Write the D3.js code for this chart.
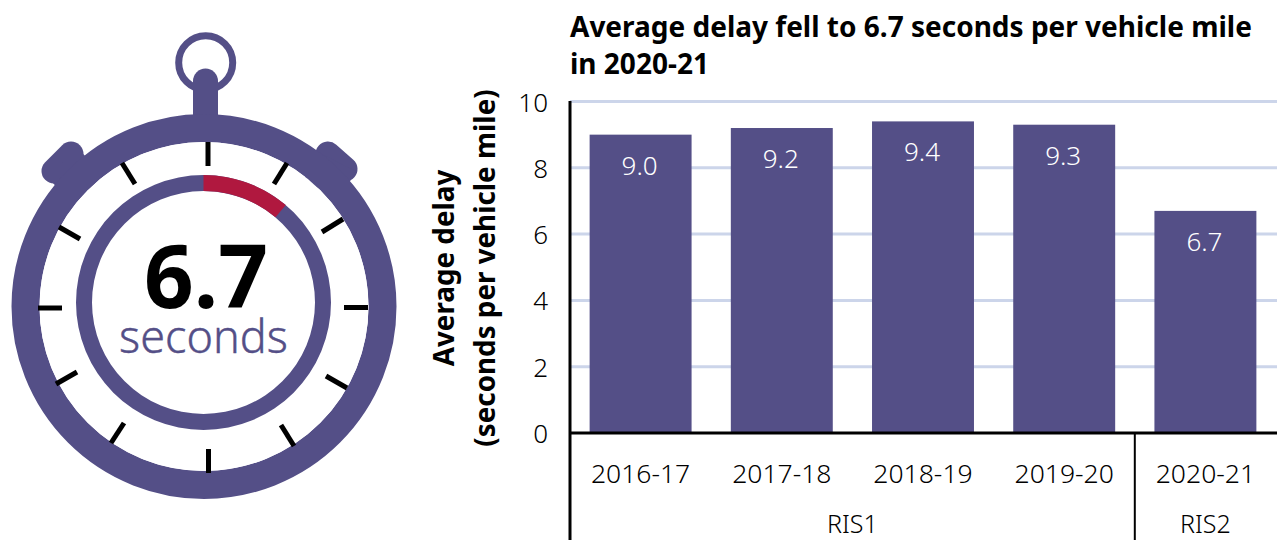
<!DOCTYPE html>
<html><head><meta charset="utf-8">
<script src="https://cdn.jsdelivr.net/npm/d3@7"></script>
<style>
html,body{margin:0;padding:0;background:#fff;overflow:hidden}
text{font-family:"Noto Sans",sans-serif}
</style></head><body>
<svg id="c" width="1278" height="540"></svg>
<script>
const categories=["2016-17","2017-18","2018-19","2019-20","2020-21"];
const delayValues=[9.0,9.2,9.4,9.3,6.7];
const valueLabels=["9.0","9.2","9.4","9.3","6.7"];
const yTicks=[0,2,4,6,8,10];
const groups=[{name:"RIS1",from:0,to:4},{name:"RIS2",from:4,to:5}];
const headlineValue=6.7, headlineLabel="6.7", headlineUnit="seconds", dialSeconds=60;
const titleLines=["Average delay fell to 6.7 seconds per vehicle mile","in 2020-21"];
const yTitleLines=["Average delay","(seconds per vehicle mile)"];

const PURPLE="#544f87",RED="#b0183f",GRID="#ccd5ea";
const svg=d3.select("#c");

// stopwatch
const w=svg.append("g");
w.append("circle").attr("cx",205.7).attr("cy",62.7).attr("r",27).attr("fill","none").attr("stroke",PURPLE).attr("stroke-width",7);
w.append("line").attr("x1",205.5).attr("x2",205.5).attr("y1",81).attr("y2",125).attr("stroke",PURPLE).attr("stroke-width",25).attr("stroke-linecap","round");
[[[71,154],[54,171],[88,190]],[[328,154],[345,169],[322,190]]].forEach(([a,b,c])=>{
  w.append("line").attr("x1",a[0]).attr("y1",a[1]).attr("x2",b[0]).attr("y2",b[1]).attr("stroke",PURPLE).attr("stroke-width",25).attr("stroke-linecap","round");
  w.append("line").attr("x1",(a[0]+b[0])/2).attr("y1",(a[1]+b[1])/2).attr("x2",c[0]).attr("y2",c[1]).attr("stroke",PURPLE).attr("stroke-width",42);
});
w.append("circle").attr("cx",204).attr("cy",306.5).attr("r",178.5).attr("fill","none").attr("stroke",PURPLE).attr("stroke-width",28);
w.append("circle").attr("cx",204).attr("cy",306.5).attr("r",164.5).attr("fill","#fff");
const dialTicks=[[208,142,208,166],[287,163,274,184],[343,219,322,232],[368,307.5,344,307.5],[347,388,326,376],[294,446,281,425],[208.5,473,208.5,449],[111,443,124,423],[56,384,77,372],[38,308,62,308],[59,227,80,239],[122,163,135,184]];
w.selectAll(".dt").data(dialTicks).join("line").attr("x1",d=>d[0]).attr("y1",d=>d[1]).attr("x2",d=>d[2]).attr("y2",d=>d[3]).attr("stroke","#000").attr("stroke-width",5);
const dial=d3.scaleLinear().domain([0,dialSeconds]).range([0,2*Math.PI]);
const arc=d3.arc().innerRadius(111.5).outerRadius(127.5);
const dg=w.append("g").attr("transform","translate(203.5,302.5)");
dg.append("path").attr("d",arc({startAngle:0,endAngle:2*Math.PI})).attr("fill",PURPLE);
dg.append("path").attr("d",arc({startAngle:0,endAngle:dial(headlineValue)})).attr("fill",RED);
w.append("text").attr("x",206).attr("y",308).attr("text-anchor","middle").attr("font-size",87).attr("font-weight",700).attr("fill","#000").text(headlineLabel);
w.append("text").attr("x",203.5).attr("y",353).attr("text-anchor","middle").attr("font-size",45).attr("font-weight",300).attr("fill",PURPLE).attr("stroke",PURPLE).attr("stroke-width",0.4).text(headlineUnit);

// chart
const x=d3.scaleBand().domain(categories).range([570,1276]).paddingInner(0.278).paddingOuter(0.139);
const y=d3.scaleLinear().domain([0,10]).range([433,101.5]);
const chart=svg.append("g");
chart.selectAll(".g").data(yTicks.filter(d=>d>0)).join("line").attr("x1",570).attr("x2",1277).attr("y1",y).attr("y2",y).attr("stroke",GRID).attr("stroke-width",3);
chart.selectAll(".b").data(delayValues).join("rect").attr("x",(d,i)=>x(categories[i])).attr("width",x.bandwidth()).attr("y",y).attr("height",d=>y(0)-y(d)).attr("fill",PURPLE);
chart.selectAll(".v").data(delayValues).join("text").attr("x",(d,i)=>x(categories[i])+x.bandwidth()/2-1).attr("y",d=>y(d)+40).attr("text-anchor","middle").attr("font-size",26).attr("font-weight",300).attr("fill","#fff").text((d,i)=>valueLabels[i]);
chart.selectAll(".yt").data(yTicks).join("text").attr("x",548).attr("y",d=>y(d)+10).attr("text-anchor","end").attr("font-size",26).attr("font-weight",300).attr("fill","#000").text(d=>d);
chart.append("line").attr("x1",570).attr("x2",570).attr("y1",101).attr("y2",540).attr("stroke","#000").attr("stroke-width",3);
chart.append("line").attr("x1",570).attr("x2",1277).attr("y1",433).attr("y2",433).attr("stroke","#000").attr("stroke-width",3);
const step=x.step();
chart.append("line").attr("x1",570+4*step).attr("x2",570+4*step).attr("y1",433).attr("y2",540).attr("stroke","#000").attr("stroke-width",2);
chart.selectAll(".c").data(categories).join("text").attr("x",d=>x(d)+x.bandwidth()/2).attr("y",483).attr("text-anchor","middle").attr("font-size",26.5).attr("font-weight",300).attr("fill","#000").text(d=>d);
chart.selectAll(".gr").data(groups).join("text").attr("x",d=>570+(d.from+d.to)/2*step).attr("y",532.6).attr("text-anchor","middle").attr("font-size",25).attr("font-weight",300).attr("fill","#000").text(d=>d.name);
titleLines.forEach((t,i)=>svg.append("text").attr("x",570).attr("y",37+37*i).attr("font-size",28).attr("font-weight",700).attr("fill","#000").text(t));
yTitleLines.forEach((t,i)=>svg.append("text").attr("transform",`translate(${454+41*i},268) rotate(-90)`).attr("text-anchor","middle").attr("font-size",27.8).attr("font-weight",700).attr("fill","#000").text(t));
</script></body></html>
